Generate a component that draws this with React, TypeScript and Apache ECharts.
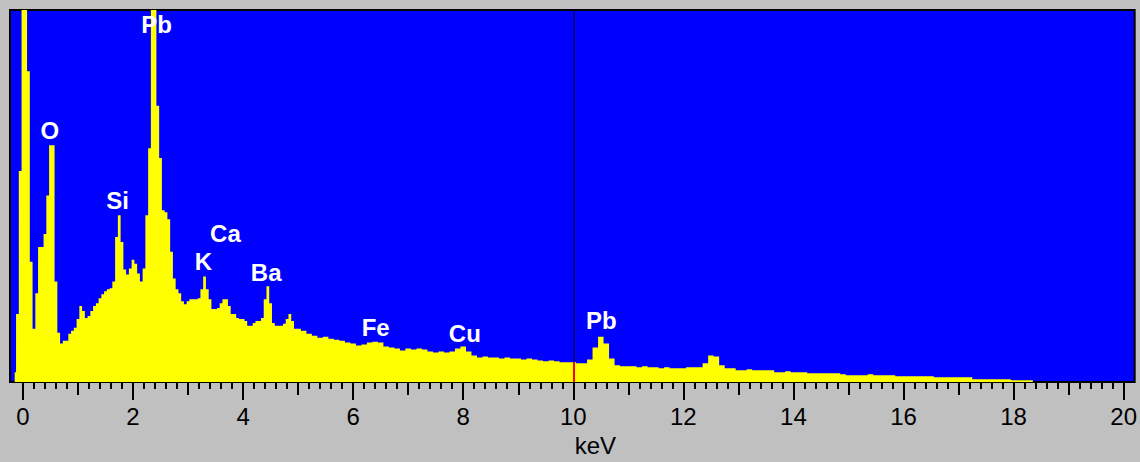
import React, { useEffect, useRef } from "react";
import * as echarts from "echarts";

// Spectrum channels: fine region (-0.15 .. 5.00 keV, 0.05 keV channels)
const fineStart = -0.15;
const fineStep = 0.05;
const fineCounts = [
  10, 69, 214, 400, 400, 315, 122, 54, 90, 137, 137, 150, 189, 240, 240, 102, 50, 39, 42, 42,
  49, 52, 55, 64, 77, 72, 65, 67, 72, 77, 80, 85, 89, 92, 94, 95, 102, 147, 169, 142,
  114, 109, 115, 124, 120, 110, 102, 115, 169, 237, 400, 400, 280, 227, 174, 172, 165, 132, 105, 94,
  90, 82, 79, 82, 84, 84, 84, 85, 94, 107, 94, 84, 74, 74, 75, 80, 84, 84, 77, 69,
  69, 65, 64, 64, 62, 57, 57, 60, 62, 62, 65, 84, 97, 80, 60, 57, 57, 57, 59, 64,
  69, 62, 54, 54,
];
// Coarse region (5.1 .. 18.5 keV, 0.1 keV channels)
const coarseStart = 5.1;
const coarseStep = 0.1;
const coarseCounts = [
  52, 49, 47, 45, 46, 44, 43, 42, 40, 39, 37, 38, 40, 41, 40, 36, 35, 34, 32, 34,
  33, 34, 33, 31, 30, 31, 30, 31, 34, 36, 31, 27, 25, 26, 25, 25, 24, 25, 24, 24,
  23, 24, 23, 22, 21, 22, 21, 20, 20, 20, 19, 19, 23, 35, 46, 39, 24, 17, 16, 16,
  16, 15, 16, 15, 15, 14, 15, 14, 14, 14, 15, 15, 15, 19, 27, 26, 17, 14, 14, 12,
  12, 13, 12, 12, 12, 12, 10, 10, 11, 10, 10, 10, 9, 9, 9, 9, 9, 9, 8, 7,
  7, 7, 7, 8, 7, 7, 7, 7, 6, 6, 6, 6, 6, 6, 6, 5, 5, 5, 5, 5,
  5, 5, 3, 3, 3, 3, 3, 3, 3, 2, 2, 2, 2, 0, 0,
];

const majorTicks = [0, 2, 4, 6, 8, 10, 12, 14, 16, 18, 20];
const mediumTicks = [1, 3, 5, 7, 9, 11, 13, 15, 17, 19];

const peakNames = ["O", "Pb", "Si", "Ca", "K", "Ba", "Fe", "Cu", "Pb"];
const peakEnergies = [0.49, 2.43, 1.72, 3.68, 3.28, 4.42, 6.41, 8.03, 10.51];
const peakLabelHeights = [255, 362, 184, 151, 122, 111, 55, 49, 62];

const cursorEnergy = 10;

export default function App() {
  const ref = useRef<HTMLDivElement>(null);

  useEffect(() => {
    document.body.style.margin = "0";
    if (!ref.current) return;
    const chart = echarts.init(ref.current, undefined, { renderer: "svg" });

    const data: [number, number][] = [];
    fineCounts.forEach((c, i) => {
      data.push([+(fineStart + i * fineStep).toFixed(3), c]);
    });
    coarseCounts.forEach((c, i) => {
      data.push([+(coarseStart + i * coarseStep).toFixed(3), c]);
    });

    let cursorCount = 0;
    let best = Infinity;
    data.forEach(([e, c]) => {
      const d = Math.abs(e - cursorEnergy);
      if (d < best) {
        best = d;
        cursorCount = c;
      }
    });

    const minorTicks: number[] = [];
    for (let i = 1; i < 100; i++) {
      if (i % 5 !== 0) minorTicks.push(+(i * 0.2).toFixed(2));
    }

    const fontFamily = "'Liberation Sans', Arial, sans-serif";
    const xMin = -0.235;
    const xMax = 20.2;

    const baseAxis = {
      type: "value" as const,
      min: xMin,
      max: xMax,
      position: "bottom" as const,
      gridIndex: 0,
      axisLine: { show: false },
      splitLine: { show: false },
    };

    chart.setOption({
      animation: false,
      backgroundColor: "#c0c0c0",
      grid: {
        left: 10,
        right: 2,
        top: 10,
        bottom: 75,
        show: true,
        backgroundColor: "#0000ff",
        borderColor: "#000000",
        borderWidth: 2,
      },
      xAxis: [
        {
          ...baseAxis,
          name: "keV",
          nameLocation: "middle",
          nameGap: 50,
          nameTextStyle: {
            color: "#000",
            fontSize: 24,
            fontFamily,
            padding: [0, 0, 0, 46],
          },
          axisTick: {
            show: true,
            inside: false,
            length: 18,
            customValues: majorTicks,
            lineStyle: { color: "#000", width: 2 },
          },
          axisLabel: {
            show: true,
            customValues: majorTicks,
            margin: 22,
            color: "#000",
            fontSize: 24,
            fontFamily,
          },
        },
        {
          ...baseAxis,
          axisTick: {
            show: true,
            length: 13,
            customValues: mediumTicks,
            lineStyle: { color: "#000", width: 2 },
          },
          axisLabel: { show: false },
        },
        {
          ...baseAxis,
          axisTick: {
            show: true,
            length: 7,
            customValues: minorTicks,
            lineStyle: { color: "#000", width: 2 },
          },
          axisLabel: { show: false },
        },
      ],
      yAxis: {
        type: "value",
        min: 0,
        max: 377,
        show: false,
      },
      series: [
        {
          type: "line",
          xAxisIndex: 0,
          data,
          step: "middle",
          symbol: "none",
          lineStyle: { width: 0, color: "#ffff00" },
          areaStyle: { color: "#ffff00", opacity: 1 },
          silent: true,
          markLine: {
            silent: true,
            symbol: "none",
            label: { show: false },
            data: [
              [
                { coord: [cursorEnergy, 0] },
                { coord: [cursorEnergy, 377] },
              ],
              [
                { coord: [cursorEnergy, 0], lineStyle: { color: "#ff0000", width: 2, type: "solid" } },
                { coord: [cursorEnergy, cursorCount] },
              ],
            ],
            lineStyle: { color: "#00005a", width: 1.5, type: "solid" },
          },
          markPoint: {
            silent: true,
            symbol: "circle",
            symbolSize: 1,
            itemStyle: { color: "rgba(0,0,0,0)" },
            label: {
              show: true,
              position: "inside",
              formatter: "{b}",
              color: "#ffffff",
              fontSize: 24,
              fontWeight: "bold",
              fontFamily,
            },
            data: peakNames.map((n, i) => ({
              name: n,
              coord: [peakEnergies[i], peakLabelHeights[i]],
            })),
          },
        },
      ],
    });

    return () => chart.dispose();
  }, []);

  return <div ref={ref} style={{ width: 1140, height: 462 }} />;
}
